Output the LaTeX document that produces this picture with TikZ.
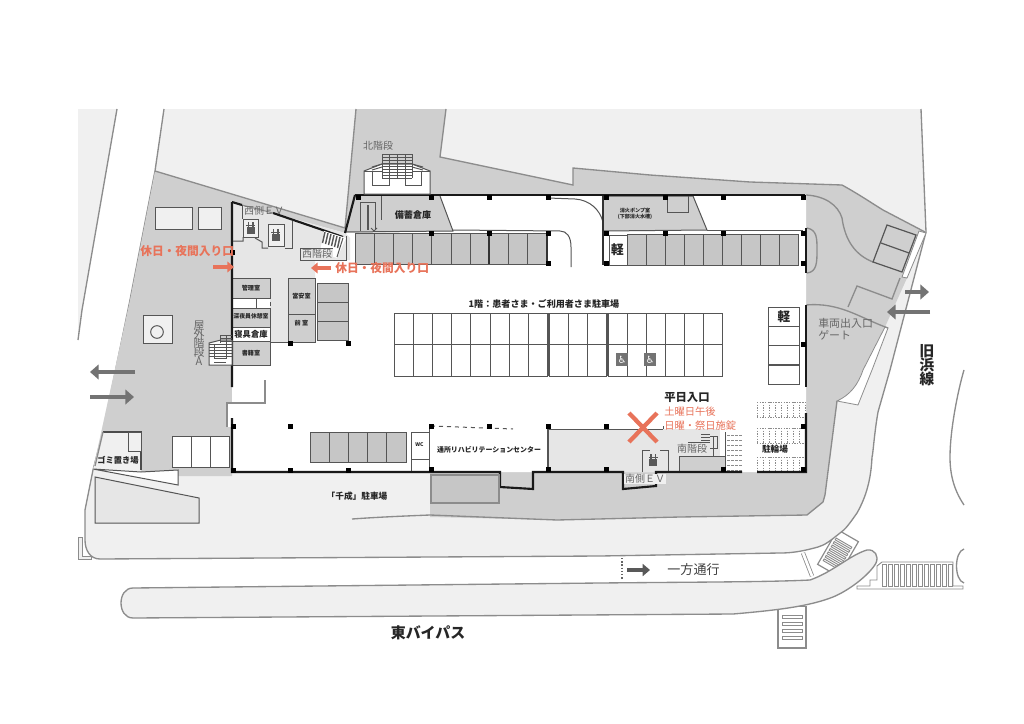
\documentclass[tikz,border=0pt]{standalone}
\usepackage{fontspec}
\usetikzlibrary{arrows.meta}
\newfontfamily\jp{Noto Sans CJK JP}
\newfontfamily\djv{DejaVu Sans}
\definecolor{lightg}{HTML}{F0F0F0}
\definecolor{darkg}{HTML}{CFCFCF}
\definecolor{midg}{HTML}{C6C6C6}
\definecolor{paleg}{HTML}{E6E6E6}
\definecolor{edgeg}{HTML}{8C8C8C}
\definecolor{lineg}{HTML}{555555}
\definecolor{redo}{HTML}{E8735A}
\tikzset{
 edge/.style={draw=edgeg,line width=1pt},
 thin line/.style={draw=lineg,line width=.75pt},
 wall/.style={draw=black!90,line width=1.6pt},
 slot/.style={draw=lineg,line width=.75pt,fill=midg},
 wslot/.style={draw=lineg,line width=.6pt,fill=white},
 lbl/.style={font=\jp\bfseries\fontsize{#1}{#1}\selectfont,text=black!85,inner sep=0pt},
 glbl/.style={font=\jp\fontsize{#1}{#1}\selectfont,text=black!60,inner sep=0pt},
 rlbl/.style={font=\jp\bfseries\fontsize{#1}{#1}\selectfont,text=redo,inner sep=0pt},
 redarrow/.style={draw=redo,line width=2.6pt,-{Triangle[length=5pt,width=8pt]}},
 grayarrow/.style={draw=black!55,line width=3.6pt,-{Triangle[length=6.5pt,width=11pt]}},
 rung/.style={draw=edgeg,line width=.7pt},
}
\newcommand{\colm}[2]{\fill[black] (#1-2.5,#2-2.5) rectangle (#1+2.5,#2+2.5);}
\newcommand{\evicon}[2]{\fill[black!65] (#1-4,#2-1) rectangle (#1+4,#2+6);
 \fill[black!65] (#1-3,#2-6) rectangle (#1-1.5,#2);\fill[black!65] (#1+1.5,#2-6) rectangle (#1+3,#2);
 \fill[black!65] (#1-4.5,#2-3) rectangle (#1+4.5,#2-2);}
\begin{document}
\begin{tikzpicture}[x=.75pt,y=-.75pt]
\useasboundingbox (0,0) rectangle (1024,724);
\fill[white] (0,0) rectangle (1024,724);
% stairs under road edges
\begin{scope}[shift={(838,553)},rotate=-30]
\path[rung,fill=white,line width=.9pt] (-12,-20) rectangle (12,20);
\foreach \y in {-11,-7,...,13} \path[rung,fill=white] (-9,\y-1) rectangle (9,\y+1);
\end{scope}
\path[rung,fill=white] (778,606) rectangle (806,648);
\foreach \y in {617,624,631,638} \path[rung,fill=white] (782,\y-2) rectangle (802,\y+1);
\draw[rung,line width=1.1pt] (778,606) -- (778,648) -- (806,648) -- (806,606);
% ground
\path[fill=lightg] (78,109) -- (117,109) -- (82,310) -- (78,340) -- cycle;
\draw[edge] (117,109) -- (82,310) -- (78,340);
\path[fill=lightg] (164,109) -- (921,109) -- (926,232) -- (890,370) -- (878,412) .. controls (874,435) and (873,455) .. (872,457)
  .. controls (871,480) and (866,497) .. (857,513) .. controls (850,523) and (845,530) .. (840,533) .. controls (830,541) and (825,545) .. (818,547)
  .. controls (800,552) and (790,553) .. (780,553) -- (600,556) -- (100,559)
  .. controls (90,559) and (85,550) .. (85,540) -- (85,510) -- (93,470) -- (130,300) -- (155,171) -- cycle;
\draw[edge] (164,109) -- (155,171) -- (130,300) -- (103,432) -- (93,470) -- (85,510) -- (85,540)
  .. controls (85,550) and (90,559) .. (100,559) -- (600,556) -- (780,553) .. controls (790,553) and (800,552) .. (818,547)
  .. controls (825,545) and (830,541) .. (840,533) .. controls (845,530) and (850,523) .. (857,513)
  .. controls (866,497) and (871,480) .. (872,457) .. controls (873,455) and (874,435) .. (878,412) -- (890,370) -- (926,232) -- (921,109);
% far-right road edge
\draw[edge] (964,370) .. controls (958,390) and (950,430) .. (950,457) .. controls (950,475) and (954,490) .. (964,505);
% median
\path[edge,fill=lightg] (133,588) -- (600,583) .. controls (700,582) and (770,582) .. (810,580)
  .. controls (833,572) and (850,555) .. (867,550) .. controls (875,549) and (879,556) .. (876,563)
  .. controls (870,574) and (850,590) .. (833,597) .. controls (810,606) and (780,610) .. (733,614)
  -- (133,618) .. controls (117,618) and (117,588) .. (133,588) -- cycle;
% dark site
\path[fill=darkg] (155,171) -- (345,228) -- (356,109) -- (446,109) -- (440,157) -- (573,185) -- (573,168) -- (650,175) -- (750,182) -- (842,185)
  .. controls (860,195) and (870,202) .. (883,210) -- (925,232) -- (907,278) -- (885,327) -- (863,370) .. controls (858,385) and (850,395) .. (837,401)
  -- (825,495) -- (823,502) -- (807,515) -- (680,517) -- (557,520) -- (430,517) -- (430,473) -- (232,473) -- (232,476) -- (178,476) -- (141,472) -- (93,470) -- (130,300) -- cycle;
\path[edge] (155,171) -- (345,228) -- (356,109);
\path[edge] (446,109) -- (440,157) -- (573,185) -- (573,168) -- (650,175) -- (750,182) -- (842,185) .. controls (860,195) and (870,202) .. (883,210) -- (925,232);
\path[edge] (352,519) .. controls (380,517) and (405,516) .. (430,515) -- (557,520) -- (680,517) -- (807,515) -- (823,502) -- (825,495) -- (837,401);
% white strips
\path[fill=white,draw=edgeg,line width=.6pt] (926,233) -- (919,231) -- (902,277) -- (907,278) -- cycle;
\path[fill=white,draw=edgeg,line width=.6pt] (888,328) -- (885,327) -- (863,370) .. controls (858,385) and (850,395) .. (837,401) -- (858,405) -- (872,370) -- cycle;
% right region lines
\draw[edge] (806,195) .. controls (825,196) and (838,205) .. (842,218) .. controls (845,240) and (855,255) .. (873,262);
\draw[edge] (806,305) .. controls (840,302) and (860,318) .. (888,328);
\draw[edge] (848,307) -- (857,286) -- (892,299) -- (900,278);
\draw[edge] (807,228) .. controls (817,230) and (817,238) .. (817,250) .. controls (817,262) and (817,272) .. (807,273);
\path[draw=lineg,line width=.9pt,fill=darkg] (887,225) -- (916,235) -- (902,272) -- (873,262) -- cycle;
\draw[draw=lineg,line width=.9pt] (881,243) -- (909,253);
% building interior
\path[fill=white] (232,202) -- (345,233) -- (357,195) -- (806,195) -- (806,472) -- (232,472) -- cycle;
\path[fill=white] (227,403) rectangle (232,427);
\path[fill=paleg] (232,202) -- (345,233) -- (350,238) -- (350,260) -- (315,260) -- (315,278) -- (288,278) -- (288,342) -- (270,342) -- (270,278) -- (232,278) -- cycle;
% 備蓄倉庫 + pump
\path[fill=darkg] (355,196) -- (440,196) -- (453,231) -- (345,233) -- cycle;
\draw[thin line] (440,196) -- (453,231) -- (346,232);
\draw[thin line] (360,231) -- (360,202) -- (375,202) -- (375,230);
\draw[thin line] (381,196) -- (381,220);
\draw[line width=1.2pt,draw=lineg] (368,205) -- (368,230);
\draw[thin line] (371,228) -- (374,231) -- (377,228);
\path[fill=darkg,thin line] (603,196) -- (693,196) -- (707,230) -- (603,231) -- cycle;
\draw[thin line] (667,196) -- (667,212) -- (688,212) -- (688,196);
% ramp curves
\draw[thin line] (453,230) -- (560,231) .. controls (567,231) and (571,237) .. (571,247) -- (571,267);
\draw[thin line] (548,198) -- (575,199) .. controls (590,200) and (600,210) .. (603,222);
\draw[thin line] (707,230) -- (803,230);
% upper slots
\foreach \i in {0,...,9} \path[slot] ({355+\i*19.2},233.5) rectangle ({355+(\i+1)*19.2},264);
\foreach \i in {0,...,8} \path[slot] ({627+\i*19.1},234) rectangle ({627+(\i+1)*19.1},265);
\path[wslot] (609,235) rectangle (627,265);
\node[lbl=9.5] (kei1) at (617.5,250) {軽};
\draw[line width=1.4pt,black!80] (603,196) -- (603,265);
\draw[line width=1.4pt,black!80] (547,233) -- (547,264);
\draw[line width=1.4pt,black!80] (489,233) -- (489,264);
% central parking
\foreach \i in {0,...,7} \foreach \y in {313,344.5} \path[wslot] ({394+\i*19.2},\y) rectangle ({394+(\i+1)*19.2},\y+31.5);
\foreach \i in {0,...,2} \foreach \y in {313,344.5} \path[wslot] ({549+\i*19.2},\y) rectangle ({549+(\i+1)*19.2},\y+31.5);
\foreach \i in {0,...,5} \foreach \y in {313,344.5} \path[wslot] ({608+\i*19.1},\y) rectangle ({608+(\i+1)*19.1},\y+31.5);
\draw[line width=1pt,lineg] (607,313) -- (607,376);
\draw[line width=1pt,lineg] (548,313) -- (548,376);
\foreach \x/\n in {622/wa,650/wb} {
 \fill[black!55] (\x-6,353) rectangle (\x+6,366);
 \node[inner sep=0pt,text=white,font=\djv\fontsize{7.5}{7.5}\selectfont] (\n) at (\x,359.5) {♿};
}
\node[lbl=6.8] (title) at (544,304) {1階：患者さま・ご利用者さま駐車場};
% right kei column
\foreach \y in {307,326,345.5,365} \path[wslot] (768,\y) rectangle (799,\y+19.3);
\node[lbl=9.5] (kei2) at (784,317) {軽};
% slots left
\foreach \y in {283,302.3,321.6} \path[slot] (317,\y) rectangle (348,\y+19.3);
\foreach \i in {0,...,4} \path[slot] ({310+\i*19.2},432) rectangle ({310+(\i+1)*19.2},462);
% rooms west
\path[fill=darkg,thin line] (232,278) rectangle (270,298);
\draw[thin line] (232,278) -- (270,278);
\path[fill=white] (233,298.5) rectangle (269,308);
\draw[thin line] (233,298) -- (240,298) (246,298) -- (269,298) (256,298) -- (256,308);
\path[fill=darkg,thin line] (232,308) rectangle (270,327);
\path[fill=white,thin line] (232,327) rectangle (270,341);
\path[fill=darkg,thin line] (232,341) rectangle (270,365);
\draw[thin line,dashed] (270,278) -- (270,365);
\node[lbl=4.6] (r1) at (251,288) {管理室};
\node[lbl=4.4] (r2) at (251,316) {深夜員休憩室};
\node[lbl=6.2] (r3) at (251,334) {寝具倉庫};
\node[lbl=4.6] (r4) at (251,353) {書籍室};
\path[fill=darkg,thin line] (288,278) rectangle (315,314);
\path[fill=darkg,thin line] (288,314) rectangle (315,342);
\node[lbl=4.6] (r5) at (301.5,296) {當安室};
\node[lbl=4.6] (r6) at (301.5,323) {前 室};
\draw[thin line] (270,342) -- (288,342);
% pump text
\node[lbl=3.8,align=center] (pump) at (635,214) {消火ポンプ室\\[1pt](下部消火水槽)};
\node[lbl=6.8] (bichiku) at (413,215) {備蓄倉庫};
% WC & rehab
\path[fill=white,thin line] (411,432) rectangle (429,459);
\draw[thin line] (411,459) -- (411,472);
\node[lbl=3.8] (wc) at (419.5,445) {WC};
\path[fill=paleg] (548,429) rectangle (720,472);
\draw[thin line] (548,429) -- (663,429) (663,426) -- (663,429);
\draw[line width=1pt,lineg] (548,429) -- (548,472);
\draw[thin line] (429,426) -- (429,432) (429,459) -- (429,472);
\draw[thin line,dashed] (431,426) -- (513,429);
\node[lbl=5.2] (rehab) at (489,450) {通所リハビリテーションセンター};
% south stair
\path[fill=darkg,thin line] (679,472) -- (679,456) -- (725,456) -- (725,472) -- cycle;
\draw[thin line] (725,432) -- (725,472);
\draw[thin line] (710,436) -- (717,436) -- (717,448) -- (710,448) (688,442) -- (710,442) (713,436) -- (713,456);
\foreach \y in {434,437,440} \draw[thin line] (701,\y) -- (710,\y);
\foreach \y in {435,440,...,470} \draw[edgeg,line width=.6pt,dash pattern=on 2pt off 1pt] (727,\y) -- (742,\y);
\foreach \yy in {402,428,457} \foreach \y in {0,15} \draw[edgeg,line width=.6pt,dash pattern=on 1pt off 1pt] (757,\yy+\y) -- (805,\yy+\y);
\foreach \yy in {402,428,457} \foreach \x in {757,763,...,805} \draw[edgeg,line width=.6pt,dash pattern=on 1pt off 1pt] (\x,\yy) -- (\x,\yy+15);
\node[lbl=6.5] (bike) at (775,449) {駐輪場};
\node[glbl=7.5,fill=paleg,inner sep=.5pt] (sst) at (692,449) {南階段};
\draw[thin line] (642,472) -- (642,450) -- (650,450) (660,450) -- (668,450) -- (668,472);
\evicon{653}{460}
% building outer walls
\draw[wall] (232,202) -- (232,387) (232,418) -- (232,472) -- (500,472) -- (500,487) -- (533,489) -- (533,472) -- (623,472) -- (623,489) -- (656,486) -- (656,472) -- (742,472) (757,472) -- (806,472) -- (806,413);
\draw[line width=1.6pt,black!90] (806,228) -- (806,273) (806,305) -- (806,387);
\draw[wall] (355,195) -- (805,195);
\draw[wall] (345,233) -- (355,195);
\draw[wall] (273,213) -- (343,237);
\draw[wall] (232,202) -- (242,205);
\draw[edgeg,line width=.8pt] (242,205) -- (273,213);
% west ev & stair
\draw[thin line] (242,205) -- (242,219) (292,221) -- (292,248) -- (285,248);
\draw[thin line] (233,241) -- (243,241) -- (243,237) (255,238) -- (262,242) -- (262,248) -- (268,248);
\path[fill=lightg,thin line] (243,219) rectangle (258,237);
\path[fill=lightg,thin line] (268,224) rectangle (284,246);
\evicon{250.5}{228}
\evicon{275.5}{235}
\node[glbl=7.5] (wev) at (264,211) {西側ＥＶ};
\path[fill=white] (324,231) -- (346,238) -- (337,258) -- (320,252) -- cycle;
\foreach \i in {0,...,5} \draw[black!65,line width=1.1pt] ({325+\i*3},{232+\i*1}) -- ({322.5+\i*3},{243+\i*1});
\draw[thin line] (343,238) -- (337,257);
\draw[thin line] (346,236) -- (346,260) -- (300,260) -- (300,248) -- (333,248);
\node[glbl=7.5,inner sep=.5pt,fill=paleg] (wst) at (317,254) {西階段};
% entrance line at west
\draw[edgeg,line width=1pt] (227,427) -- (227,403) -- (265,403) -- (265,380);
% columns
\foreach \x/\y in {431/197,489/197,548/197,606/197,665/197,723/197,803/197,431/233,489/233,548/233,606/233,665/233,723/233,803/233,548/263,606/263,803/263,803/344,290/343,348/343,233/426,290/426,233/470,290/470,348/470,431/426,489/426,548/426,606/426,431/469,548/469,606/469,723/469,803/426,803/469,358/197,232/252} {\colm{\x}{\y}}
% north stair
\path[fill=white,thin line] (364,194) -- (364,171) -- (382,164) -- (412,164) -- (430,171) -- (430,194) -- cycle;
\foreach \y in {154,157,...,178} \draw[thin line] (382,\y) -- (412,\y);
\foreach \x in {382,389,397,405,412} \draw[thin line] (\x,154) -- (\x,178);
\draw[thin line] (372,171) -- (372,185) -- (389,185) -- (389,171) (405,171) -- (405,185) -- (421,185) -- (421,171);
\draw[thin line] (364,171) -- (382,171) (412,171) -- (430,171);
\foreach \y in {165,168} {\draw[thin line] (372,\y+2) -- (382,\y-1) (412,\y-1) -- (423,\y+2);}
\node[glbl=7.5] (nst) at (378,146) {北階段};
% outside left
\path[fill=lightg,thin line] (155,207) rectangle (192,229);
\path[fill=lightg,thin line] (198,207) rectangle (221,229);
\path[fill=lightg,thin line] (143,315) rectangle (172,343);
\node[draw=lineg,line width=.75pt,circle,minimum size=9.5pt,inner sep=0pt] (well) at (157,332) {};
\node[glbl=8.2,align=center,text width=12pt] (ost) at (199,343) {屋\\[-1.5pt]外\\[-1.5pt]階\\[-1.5pt]段\\[-1.5pt]A};
% outside stair
\path[fill=white,thin line] (209,343) -- (221,340) -- (232,340) -- (232,365) -- (209,365) -- cycle;
\foreach \y in {344,347,350,353,356} \draw[thin line] (209,\y) -- (232,\y);
\foreach \y in {335,338,341} \draw[thin line] (220,\y) -- (232,\y);
\draw[thin line] (220,335) -- (220,343) (226,335) -- (226,358) -- (214,358) -- (214,345) (226,362) -- (214,362);
% lower-left parking
\foreach \x/\w in {172/19,191/19,210/19} \path[wslot] (\x,436) rectangle (\x+\w,467);
% garbage
\path[fill=lightg] (103,432) -- (141,432) -- (141,476) -- (93,470) -- cycle;
\draw[line width=1pt,black!70] (103,432) -- (141,432) -- (141,470);
\draw[edge] (103,432) -- (95,466);
\path[fill=lightg,thin line] (128,432) rectangle (141,451);
\node[lbl=6.2] (trash) at (118,460) {ゴミ置き場};
\path[fill=white,thin line] (93,469) -- (141,472) -- (178,470) -- (178,485) -- cycle;
\path[fill=paleg,thin line] (95,477) -- (199,498) -- (199,523) -- (95,523) -- cycle;
\path[fill=lightg,edge,line width=.6pt] (78,537) -- (82,537) -- (82,556) -- (91,556) -- (91,559) -- (78,559) -- cycle;
% south parking box
\path[fill=midg,edge] (431,475) rectangle (499,503);
\node[lbl=6.5] (sen) at (357,496) {「千成」駐車場};
\node[glbl=7.5,fill=lightg,inner sep=.5pt] (sev) at (645,479) {南側ＥＶ};
% road furniture
\draw[rung,double=white,double distance=2pt,line width=.6pt] (803,553) -- (812,576);
\path[rung,fill=white] (857,586) -- (870,586) -- (870,580) -- (877,580) -- (877,566) -- (882,562) -- (953,562) -- (953,586) -- (963,586) -- (963,589) -- (857,589) -- cycle;
\foreach \x in {882,888,...,950} \path[rung,fill=white] (\x,564) rectangle (\x+4,586);
\draw[rung,line width=1pt] (964,549) .. controls (954,552) and (954,580) .. (964,583);
% road text
\draw[black!60,line width=.8pt,dash pattern=on 1pt off 1.4pt] (622,558) -- (622,580);
\coordinate (oa) at (627,570);
\coordinate (ob) at (650,570);
\draw[draw=black!65,line width=3.2pt,-{Triangle[length=5.5pt,width=9pt]}] (oa) -- (ob);
\node[glbl=9.8,text=black!75] (oneway) at (693.5,570) {一方通行};
\node[lbl=11.2,text=black!85] (bypass) at (428,633) {東バイパス};
% gray arrows
\coordinate (g1a) at (135,372);\coordinate (g1b) at (90,372);
\coordinate (g2a) at (90,397);\coordinate (g2b) at (134,397);
\coordinate (g3a) at (905,292);\coordinate (g3b) at (929,292);
\coordinate (g4a) at (930,312);\coordinate (g4b) at (887,312);
\draw[grayarrow] (g1a) -- (g1b);
\draw[grayarrow] (g2a) -- (g2b);
\draw[grayarrow] (g3a) -- (g3b);
\draw[grayarrow] (g4a) -- (g4b);
\node[glbl=8.2,align=left,anchor=west] (gate) at (818,329) {車両出入口\\[1pt]ゲート};
\node[lbl=11,align=center,text=black!85] (kyu) at (927,365) {旧\\[-.5pt]浜\\[-.5pt]線};
% red
\coordinate (ra) at (213,267);\coordinate (rb) at (234,267);
\coordinate (rc) at (331,268);\coordinate (rd) at (311,268);
\draw[redarrow] (ra) -- (rb);
\draw[redarrow] (rc) -- (rd);
\node[rlbl=8.8,anchor=west] (red1) at (140,251) {休日・夜間入り口};
\node[rlbl=8.8,anchor=west] (red2) at (335,268) {休日・夜間入り口};
\node[lbl=8.5,anchor=west] (hei) at (664,397) {平日入口};
\node[rlbl=7.5,font=\jp\fontsize{7.7}{7.7}\selectfont,anchor=west] (sat) at (664,412) {土曜日午後};
\node[rlbl=7.5,font=\jp\fontsize{7.7}{7.7}\selectfont,anchor=west] (sun) at (664,426) {日曜・祭日施錠};
\draw[redo,line width=3.2pt] (629,413) -- (657,442) (629,442) -- (657,413);
\end{tikzpicture}
\end{document}
